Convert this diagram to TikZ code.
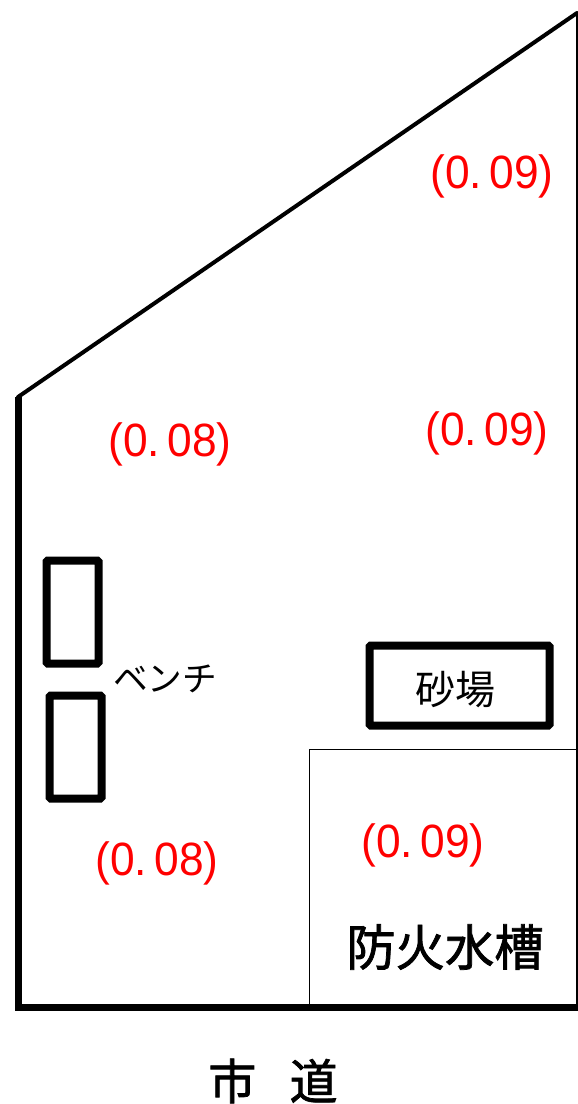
\documentclass[tikz,border=0pt]{standalone}
\usepackage{fontspec}
\setmainfont{Noto Sans CJK JP}
\newfontfamily\latinfont{Liberation Sans}
\newfontfamily\heavyfont[FakeBold=1.5]{Noto Sans CJK JP}
\begin{document}
\begin{tikzpicture}[x=0.75pt,y=-0.75pt]
  \tikzset{
    wall/.style={line width=5.25pt},
    bench/.style={line width=6pt,rounded corners=1pt},
    labelred/.style={text=red,inner sep=0pt,xscale=0.95,font=\latinfont\fontsize{35}{35}\selectfont},
    labelblack/.style={inner sep=0pt}
  }
  \useasboundingbox (0,0) rectangle (578,1104);
  \coordinate (corner1) at (18,397);
  \coordinate (corner2) at (18,1007);
  \coordinate (corner3) at (578,1007);
  \coordinate (corner4) at (577,13);
  \draw[line width=0.75pt] (309.5,1007) -- (309.5,749) -- (577,749);
  \draw[line width=2.2pt] (577,1007) -- (corner4);
  \draw[line width=3pt,line cap=round] (corner1) -- (corner4);
  \draw[wall] (corner1) -- (corner2) -- (corner3);
  \draw[bench] (46.5,560.5) rectangle (98.5,663.5);
  \draw[bench] (49.5,695.5) rectangle (101.5,798.5);
  \draw[bench] (369.5,645.5) rectangle (549.5,725.5);
  \node[labelred] (rate1) at (492,176) {(0.\,09)};
  \node[labelred] (rate2) at (487,433) {(0.\,09)};
  \node[labelred] (rate3) at (170,444) {(0.\,08)};
  \node[labelred] (rate4) at (157,863) {(0.\,08)};
  \node[labelred] (rate5) at (423,845) {(0.\,09)};
  \node[labelblack,font=\fontsize{26}{26}\selectfont] (bench) at (165,679) {ベンチ};
  \node[labelblack,font=\fontsize{30}{30}\selectfont] (sand) at (455,690) {砂場};
  \node[labelblack,font=\heavyfont\fontsize{37}{37}\selectfont] (tank) at (445,947) {防火水槽};
  \node[labelblack,font=\heavyfont\fontsize{36}{36}\selectfont] (road) at (273,1081) {市\hspace{25pt}道};
\end{tikzpicture}
\end{document}
